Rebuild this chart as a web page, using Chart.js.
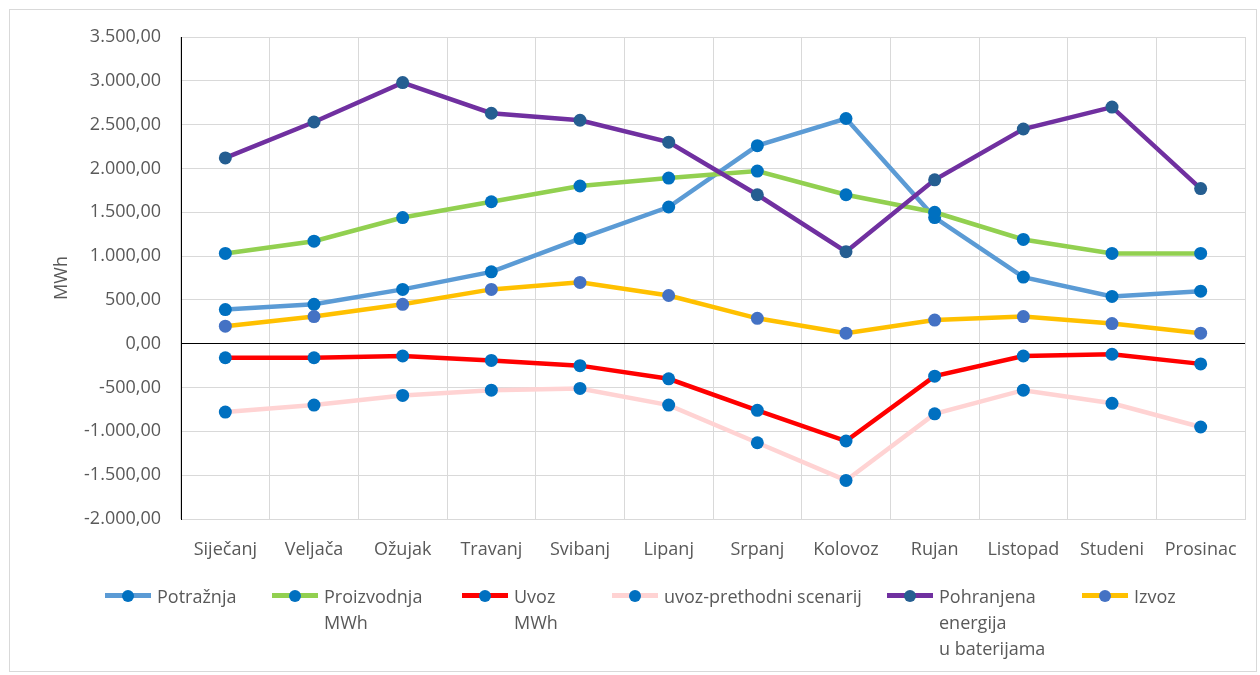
<!DOCTYPE html>
<html>
<head>
<meta charset="utf-8">
<script src="https://cdn.jsdelivr.net/npm/chart.js@4.4.0/dist/chart.umd.min.js"></script>
<style>
  html, body { margin: 0; padding: 0; background: #fff; }
  #wrap { position: relative; width: 1260px; height: 675px; overflow: hidden; }
  #frame { position: absolute; left: 9px; top: 9px; width: 1248px; height: 663px; border: 1px solid #d9d9d9; box-sizing: border-box; }
  #chart { position: absolute; left: 0; top: 0; }
  #legend { position: absolute; left: 0; top: 583px; width: 1260px; height: 90px; font-family: "Open Sans", sans-serif; font-size: 18px; color: #595959; }
  .item { position: absolute; top: 0; display: flex; align-items: flex-start; }
  .sample { position: relative; width: 46px; height: 26px; margin-right: 6px; flex: none; }
  .sample .ln { position: absolute; left: 0; right: 0; top: 10px; height: 5px; }
  .sample .pt { position: absolute; left: 17px; top: 7px; width: 12px; height: 12px; border-radius: 50%; }
  .txt { line-height: 26px; white-space: pre-line; }
</style>
</head>
<body>
<div id="wrap">
  <div id="frame"></div>
  <canvas id="chart" width="1260" height="675"></canvas>
  <div id="legend"></div>
</div>
<script>
const months = ['Siječanj', 'Veljača', 'Ožujak', 'Travanj', 'Svibanj', 'Lipanj', 'Srpanj', 'Kolovoz', 'Rujan', 'Listopad', 'Studeni', 'Prosinac'];

const potraznja = [390, 450, 620, 820, 1200, 1560, 2260, 2570, 1440, 760, 540, 600];
const proizvodnja = [1030, 1170, 1440, 1620, 1800, 1890, 1970, 1700, 1500, 1190, 1030, 1030];
const uvoz = [-160, -160, -140, -190, -250, -400, -760, -1110, -370, -140, -120, -230];
const uvozPrethodni = [-780, -700, -590, -530, -510, -700, -1130, -1560, -800, -530, -680, -950];
const pohranjena = [2120, 2530, 2980, 2630, 2550, 2300, 1700, 1050, 1870, 2450, 2700, 1770];
const izvoz = [200, 310, 450, 620, 700, 550, 290, 120, 270, 310, 230, 120];

const yMin = -2000;
const yMax = 3500;
const yStep = 500;

const seriesNames = ['Potražnja', 'Proizvodnja\nMWh', 'Uvoz\nMWh', 'uvoz-prethodni scenarij', 'Pohranjena\nenergija\nu baterijama', 'Izvoz'];
const seriesValues = [potraznja, proizvodnja, uvoz, uvozPrethodni, pohranjena, izvoz];
const lineColors = ['#5B9BD5', '#92D050', '#FF0000', '#FFD3D3', '#7030A0', '#FFC000'];
const pointColors = ['#0070C0', '#0070C0', '#0070C0', '#0070C0', '#255E91', '#4472C4'];
const legendLeft = [105, 272, 462, 612, 887, 1082];

const textColor = '#595959';
const font = { family: '"Open Sans", sans-serif', size: 18 };

function fmt(v) {
    const parts = Math.abs(v).toFixed(2).split('.');
    const intPart = parts[0].replace(/\B(?=(\d{3})+(?!\d))/g, '.');
    return (v < 0 ? '-' : '') + intPart + ',' + parts[1];
}

const datasets = seriesValues.map((vals, i) => ({
    label: seriesNames[i],
    data: vals,
    borderColor: lineColors[i],
    backgroundColor: pointColors[i],
    pointBackgroundColor: pointColors[i],
    pointBorderColor: pointColors[i],
    pointRadius: 6.5,
    pointBorderWidth: 0,
    borderWidth: 4.5,
    tension: 0,
    fill: false,
    order: seriesValues.length - i
}));

new Chart(document.getElementById('chart').getContext('2d'), {
    type: 'line',
    data: { labels: months, datasets: datasets },
    options: {
        responsive: false,
        animation: false,
        layout: { padding: { left: 47, right: 15, top: 37, bottom: 106 } },
        plugins: {
            legend: { display: false },
            tooltip: { enabled: false }
        },
        scales: {
            x: {
                type: 'category',
                offset: true,
                grid: { offset: true, color: '#d9d9d9', lineWidth: 1, drawTicks: false },
                border: { color: '#d9d9d9' },
                ticks: { color: textColor, font: font, padding: 20, maxRotation: 0, autoSkip: false },
                afterFit: (scale) => { scale.height = 50; }
            },
            y: {
                min: yMin,
                max: yMax,
                grid: {
                    color: (ctx) => ctx.tick && ctx.tick.value === 0 ? '#000000' : '#d9d9d9',
                    lineWidth: 1,
                    drawTicks: false
                },
                border: { color: '#000000', width: 1 },
                ticks: { stepSize: yStep, color: textColor, font: font, padding: 20, callback: (v) => fmt(v) },
                title: { display: true, text: 'MWh', color: textColor, font: font, padding: 4 },
                afterFit: (scale) => { scale.width = 134; }
            }
        }
    }
});

const legend = document.getElementById('legend');
datasets.forEach((ds, i) => {
    const item = document.createElement('div');
    item.className = 'item';
    item.style.left = legendLeft[i] + 'px';
    item.innerHTML = `
        <div class="sample">
            <div class="ln" style="background:${ds.borderColor}"></div>
            <div class="pt" style="background:${ds.pointBackgroundColor}"></div>
        </div>
        <div class="txt"></div>`;
    item.querySelector('.txt').textContent = ds.label;
    legend.appendChild(item);
});
</script>
</body>
</html>
